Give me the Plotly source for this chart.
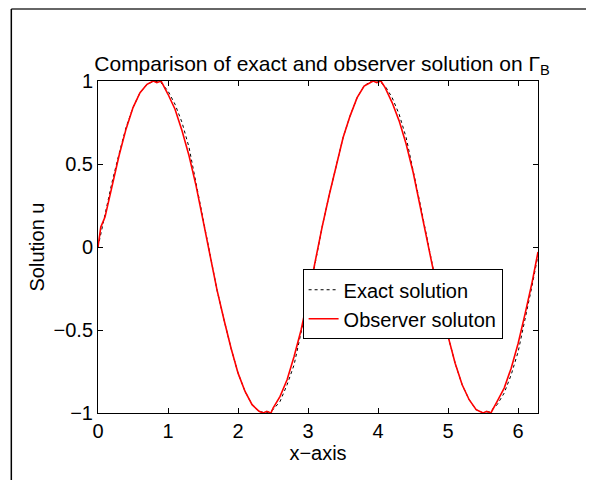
import plotly.graph_objects as go

# exact solution
x_exact = [0, 0.1, 0.2, 0.3, 0.4, 0.5, 0.6, 0.7, 0.8, 0.9, 1.0, 1.1, 1.2, 1.3, 1.4, 1.5, 1.6, 1.7, 1.8, 1.9,
           2.0, 2.1, 2.2, 2.3, 2.4, 2.5, 2.6, 2.7, 2.8, 2.9, 3.0, 3.1, 3.2, 3.3, 3.4, 3.5, 3.6, 3.7, 3.8, 3.9,
           4.0, 4.1, 4.2, 4.3, 4.4, 4.5, 4.6, 4.7, 4.8, 4.9, 5.0, 5.1, 5.2, 5.3, 5.4, 5.5, 5.6, 5.7, 5.8, 5.9,
           6.0, 6.1, 6.2, 6.283]
y_exact = [0, 0.20, 0.39, 0.56, 0.72, 0.84, 0.93, 0.98, 1.00, 0.99, 0.94, 0.86, 0.75, 0.60, 0.39, 0.18, -0.04, -0.26, -0.44, -0.61,
           -0.76, -0.87, -0.95, -0.99, -1.00, -0.98, -0.93, -0.83, -0.71, -0.52, -0.32, -0.10, 0.12, 0.31, 0.49, 0.66, 0.79, 0.90, 0.97, 1.00,
           1.00, 0.97, 0.90, 0.80, 0.66, 0.47, 0.26, 0.05, -0.17, -0.37, -0.54, -0.70, -0.83, -0.92, -0.98, -1.00, -0.99, -0.95, -0.88, -0.77,
           -0.63, -0.44, -0.23, -0.05]

# observer solution
x_obs = [0, 0.04, 0.1, 0.2, 0.3, 0.4, 0.5, 0.6, 0.7, 0.79, 0.84, 0.9, 1.0, 1.1, 1.2, 1.3, 1.4, 1.5, 1.6, 1.7, 1.8, 1.9,
         2.0, 2.1, 2.2, 2.3, 2.36, 2.41, 2.47, 2.5, 2.6, 2.7, 2.8, 2.9, 3.0, 3.1, 3.2, 3.3, 3.4, 3.5, 3.6, 3.7, 3.8,
         3.93, 3.98, 4.04, 4.1, 4.2, 4.3, 4.4, 4.5, 4.6, 4.7, 4.8, 4.9, 5.0, 5.1, 5.2, 5.3, 5.4, 5.5, 5.55, 5.61,
         5.7, 5.8, 5.9, 6.0, 6.1, 6.2, 6.283]
y_obs = [0, 0.12, 0.18, 0.37, 0.55, 0.71, 0.84, 0.93, 0.98, 1.00, 0.99, 1.00, 0.92, 0.83, 0.70, 0.55, 0.37, 0.16, -0.06, -0.26, -0.44, -0.61,
         -0.76, -0.87, -0.95, -0.99, -1.00, -0.99, -1.00, -0.97, -0.90, -0.80, -0.66, -0.50, -0.30, -0.08, 0.12, 0.31, 0.49, 0.66, 0.79, 0.90, 0.97,
         1.00, 0.99, 1.00, 0.96, 0.87, 0.76, 0.62, 0.45, 0.24, 0.03, -0.17, -0.37, -0.54, -0.70, -0.83, -0.92, -0.98, -1.00, -0.99, -1.00,
         -0.93, -0.85, -0.73, -0.58, -0.40, -0.21, -0.03]

font = "Liberation Sans, Arial, Helvetica, sans-serif"

fig = go.Figure()
fig.add_trace(go.Scatter(x=x_exact, y=y_exact, mode="lines", name="Exact solution",
                         line=dict(color="black", width=1, dash="dot")))
fig.add_trace(go.Scatter(x=x_obs, y=y_obs, mode="lines", name="Observer soluton",
                         line=dict(color="red", width=1.6)))

axis = dict(showline=True, linecolor="black", linewidth=1, mirror="ticks", ticks="inside",
            ticklen=5, tickcolor="black", showgrid=False, zeroline=False,
            tickfont=dict(size=20, color="black"))

# page body adds 8px, so the figure is 8px smaller than the window
fig.update_layout(
    width=586, height=472,
    margin=dict(l=90, r=56, t=73, b=67),
    paper_bgcolor="white", plot_bgcolor="white",
    font=dict(family=font, color="black"),
    title=dict(text="Comparison of exact and observer solution on Γ<sub>B</sub>",
               x=0.536, xanchor="center", y=0.883, yanchor="middle",
               font=dict(size=21, color="black")),
    xaxis=dict(axis, range=[0, 6.283], tickvals=[0, 1, 2, 3, 4, 5, 6],
               title=dict(text="x−axis", font=dict(size=20), standoff=4)),
    yaxis=dict(axis, range=[-1, 1], tickvals=[-1, -0.5, 0, 0.5, 1],
               ticktext=["−1", "−0.5", "0", "0.5", "1"],
               title=dict(text="Solution u", font=dict(size=20), standoff=3)),
    legend=dict(x=0.465, y=0.433, xanchor="left", yanchor="top", bgcolor="white",
                bordercolor="black", borderwidth=1, font=dict(size=20)),
    showlegend=True,
)

# outer frame lines of the exported figure
fig.add_shape(type="line", xref="paper", yref="paper", x0=-0.197, x1=1.2, y0=1.217, y1=1.217,
              line=dict(color="#333333", width=1.5))
fig.add_shape(type="line", xref="paper", yref="paper", x0=-0.197, x1=-0.197, y0=1.217, y1=-0.3,
              line=dict(color="black", width=1.5))

fig.write_html("out.html")
